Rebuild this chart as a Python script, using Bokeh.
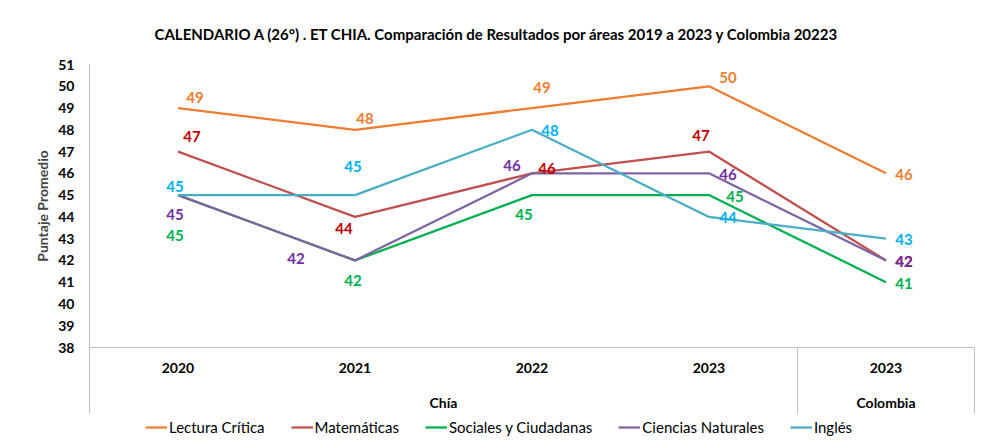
from bokeh.plotting import figure
from bokeh.layouts import column
from bokeh.models import Range1d, FixedTicker, LinearAxis, Legend, LegendItem, ColumnDataSource
from bokeh.core.properties import value
from bokeh.embed import file_html
from bokeh.resources import INLINE

# ---------------- data ----------------
TITLE = "CALENDARIO  A (26°) . ET CHIA. Comparación  de Resultados   por áreas 2019 a 2023 y Colombia  20223"
Y_LABEL = "Puntaje Promedio"
years = ["2020", "2021", "2022", "2023", "2023"]
groups = ["Chía", "Chía", "Chía", "Chía", "Colombia"]
series_names = ["Lectura Crítica", "Matemáticas", "Sociales y Ciudadanas", "Ciencias Naturales", "Inglés"]
lectura = [49, 48, 49, 50, 46]
matematicas = [47, 44, 46, 47, 42]
sociales = [45, 42, 45, 45, 41]
ciencias = [45, 42, 46, 46, 42]
ingles = [45, 45, 48, 44, 43]
y_ticks = list(range(38, 52))

# ---------------- style ----------------
FONT = "Lato"
line_colors = ["#ED7D31", "#C0504D", "#00B050", "#8064A2", "#4BACC6"]
label_colors = ["#ED7D31", "#C00000", "#00B050", "#7030A0", "#00B0F0"]
# per-point label offsets in pixels (dx right, dy down)
label_dx = [[17, 10, 10, 19, 18], [14, -11, 15, -8, 18], [-3, -2, -8, 26, 18], [-3, -59, -20, 19, 18], [-3, -2, 18, 19, 18]]
label_dy = [[-11, -11, -21, -9, 1], [-15, 12, -5, -16, 1], [40, 20, 19, 1, 1], [19, -2, -8, 1, 1], [-9, -29, 1, 1, 1]]
AXIS_GREY = "#BFBFBF"
SEP_LEN = 66
W = 982
H_MAIN = 417
H_LEG = 26

all_series = [lectura, matematicas, sociales, ciencias, ingles]
n = len(years)
xs = [i + 0.5 for i in range(n)]

# group centers and boundaries derived from groups list
group_names = []
group_idx = {}
for i, g in enumerate(groups):
    if g not in group_idx:
        group_idx[g] = []
        group_names.append(g)
    group_idx[g].append(i)
group_centers = [(min(group_idx[g]) + max(group_idx[g]) + 1) / 2 for g in group_names]
bounds = [0] + [i for i in range(1, n) if groups[i] != groups[i - 1]] + [n]

p = figure(width=W, height=H_MAIN, x_range=Range1d(0, n), y_range=Range1d(min(y_ticks), max(y_ticks)),
           output_backend="svg", toolbar_location=None,
           min_border_left=89, min_border_right=8, min_border_top=64, min_border_bottom=70)
p.outline_line_color = None
p.xgrid.visible = False
p.ygrid.visible = False

# title
p.title.text = TITLE
p.title.align = "left"
p.title.offset = 65
p.title.standoff = 43
p.title.text_font = FONT
p.title.text_font_style = "bold"
p.title.text_font_size = "15px"
p.title.text_color = "#000000"

# x axis: year labels + boundary lines (minor ticks)
xa = p.xaxis[0]
xa.ticker = FixedTicker(ticks=xs, minor_ticks=bounds)
xa.major_label_overrides = {x: y for x, y in zip(xs, years)}
xa.major_tick_line_color = None
xa.major_tick_in = 0
xa.major_tick_out = 0
xa.minor_tick_in = 0
xa.minor_tick_out = SEP_LEN
xa.minor_tick_line_color = AXIS_GREY
xa.axis_line_color = AXIS_GREY
xa.major_label_standoff = 15 - SEP_LEN
xa.major_label_text_font = FONT
xa.major_label_text_font_style = "bold"
xa.major_label_text_font_size = "14px"
xa.major_label_text_color = "#000000"

# group labels axis
xg = LinearAxis(ticker=FixedTicker(ticks=group_centers, minor_ticks=[]),
                major_label_overrides={c: g for c, g in zip(group_centers, group_names)})
xg.axis_line_color = None
xg.major_tick_line_color = None
xg.minor_tick_line_color = None
xg.major_tick_in = 0
xg.major_tick_out = 0
xg.major_label_standoff = 18
xg.major_label_text_font = FONT
xg.major_label_text_font_style = "bold"
xg.major_label_text_font_size = "14px"
xg.major_label_text_color = "#000000"
p.add_layout(xg, "below")

# y axis
ya = p.yaxis[0]
ya.ticker = FixedTicker(ticks=y_ticks, minor_ticks=[])
ya.major_tick_in = 0
ya.major_tick_out = 0
ya.minor_tick_line_color = None
ya.major_tick_line_color = None
ya.axis_line_color = AXIS_GREY
ya.major_label_standoff = 15
ya.major_label_text_font = FONT
ya.major_label_text_font_style = "bold"
ya.major_label_text_font_size = "14px"
ya.major_label_text_color = "#000000"
ya.axis_label = Y_LABEL
ya.axis_label_text_font = FONT
ya.axis_label_text_font_style = "bold"
ya.axis_label_text_font_size = "14px"
ya.axis_label_standoff = 4

for vals, lc in zip(all_series, line_colors):
    p.line(xs, vals, line_color=lc, line_width=2.25)

for vals, tc, dx, dy in zip(all_series, label_colors, label_dx, label_dy):
    src = ColumnDataSource(dict(x=xs, y=vals, t=[str(v) for v in vals], dx=dx, dy=dy))
    p.text(x="x", y="y", text="t", x_offset="dx", y_offset="dy", source=src,
           text_color=tc, text_font=value(FONT), text_font_style="bold", text_font_size="15px",
           text_align="center", text_baseline="middle")

# legend strip (separate small figure below the chart; its lines lie outside its view)
lg = figure(width=W, height=H_LEG, x_range=Range1d(0, 1), y_range=Range1d(0, 1),
            output_backend="svg", toolbar_location=None,
            min_border_left=0, min_border_right=0, min_border_top=0, min_border_bottom=0)
lg.axis.visible = False
lg.grid.visible = False
lg.outline_line_color = None
proxies = [lg.line(xs, vals, line_color=lc, line_width=2.25) for vals, lc in zip(all_series, line_colors)]
legend = Legend(items=[LegendItem(label=nm, renderers=[r]) for nm, r in zip(series_names, proxies)],
                orientation="horizontal", location=(56, 7))
legend.border_line_color = None
legend.background_fill_alpha = 0
legend.padding = 0
legend.margin = 0
legend.spacing = 26
legend.label_standoff = 2
legend.glyph_width = 22
legend.glyph_height = 16
legend.label_height = 16
legend.label_text_font = FONT
legend.label_text_font_size = "15px"
legend.label_text_color = "#000000"
lg.add_layout(legend)

layout = column(p, lg, spacing=0)
open("out.html", "w").write(file_html(layout, INLINE))
